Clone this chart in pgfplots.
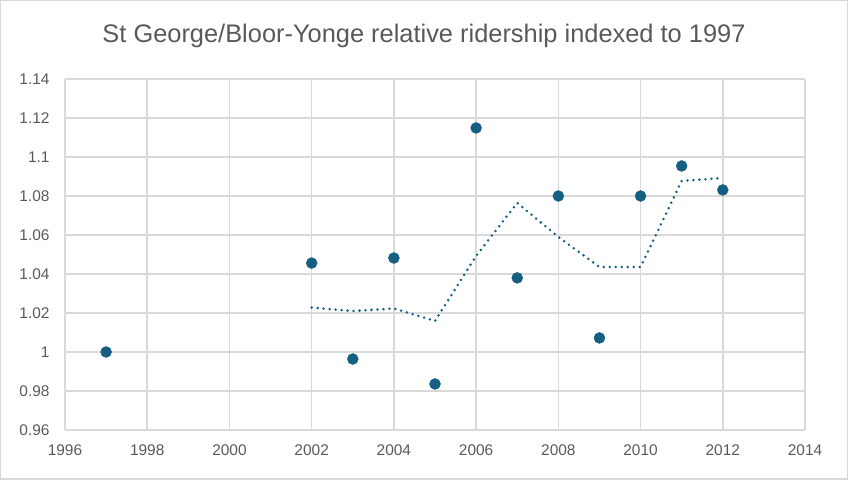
\documentclass[border=0pt]{standalone}
\usepackage{pgfplots}
\pgfplotsset{compat=1.18}
\usepackage{fontspec}
\setmainfont{Liberation Sans}
\definecolor{pt}{HTML}{156082}
\definecolor{gridc}{HTML}{D9D9D9}
\definecolor{txt}{HTML}{595959}
\begin{document}
\begin{tikzpicture}[x=1bp,y=1bp]
\draw[gridc, line width=1.5bp] (0.75,0.75) rectangle (847.25,479.25);
\begin{axis}[
  at={(65bp,50bp)}, anchor=south west,
  scale only axis, width=740bp, height=351bp,
  xmin=1996, xmax=2014, ymin=0.96, ymax=1.14,
  xtick={1996,1998,...,2014},
  ytick={0.96,0.98,...,1.14},
  grid=major,
  major grid style={gridc, line width=1.5bp},
  axis line style={draw=none},
  major tick length=0pt, minor tick length=0pt,
  tick label style={font=\fontsize{15.5}{18}\selectfont, text=txt},
  /pgf/number format/assume math mode=true,
  xticklabel style={/pgf/number format/1000 sep={}, yshift=-11bp},
  yticklabel style={/pgf/number format/fixed, /pgf/number format/precision=2, xshift=-12bp},
  scaled y ticks=false,
  clip=false,
]
\addplot[pt, line width=2.8bp, dash pattern=on 0pt off 6bp, line cap=round] coordinates {
(2002,1.0228) (2003,1.0210) (2004,1.0223) (2005,1.0159) (2006,1.04925) (2007,1.07645)
(2008,1.0590) (2009,1.0436) (2010,1.0436) (2011,1.0877) (2012,1.08925)
};
\addplot[only marks, mark=*, mark size=5.5bp, mark options={fill=pt, draw=pt}] coordinates {
(1997,1.0000) (2002,1.0456) (2003,0.9964) (2004,1.0482) (2005,0.9836) (2006,1.1149)
(2007,1.0380) (2008,1.0800) (2009,1.0072) (2010,1.0800) (2011,1.0954) (2012,1.0831)
};
\end{axis}
\node[text=txt, font=\fontsize{25.5}{30}\selectfont] at (424,444) {St George/Bloor-Yonge relative ridership indexed to 1997};
\end{tikzpicture}
\end{document}
